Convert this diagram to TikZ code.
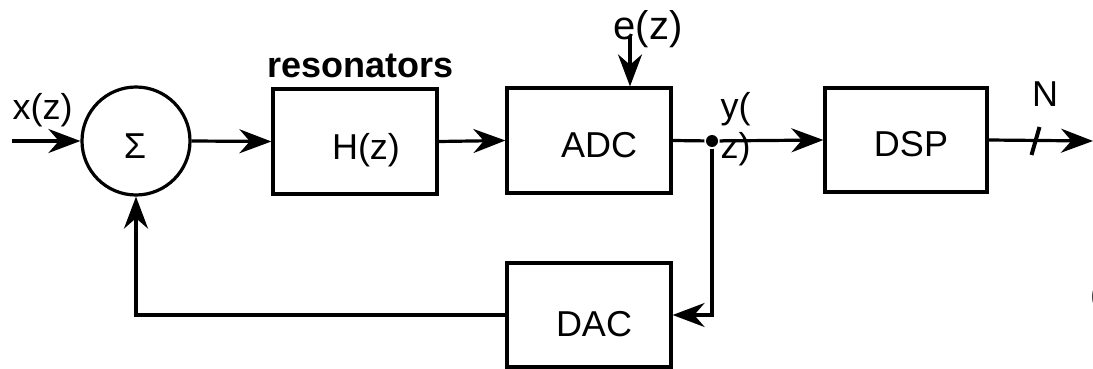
\documentclass[tikz,border=0pt]{standalone}
\usepackage{fontspec}
\setmainfont{Liberation Sans}
\usetikzlibrary{arrows.meta}

\begin{document}
\begin{tikzpicture}[x=0.5pt, y=-0.5pt, line width=1.6pt,
    font=\fontsize{18}{20}\selectfont,
    >={Stealth[length=16pt, width=12pt]},
    block/.style={draw, minimum width=82pt, minimum height=52.5pt, inner sep=0pt},
    adder/.style={draw, circle, minimum size=54pt, inner sep=0pt},
    junction/.style={circle, fill, minimum size=6pt, inner sep=0pt}]
  \useasboundingbox (0,0) rectangle (1093,369);
  \clip (0,0) rectangle (1093,369);
  % blocks
  \node[adder] (sum) at (136,141) {};
  \node[font=\fontsize{18}{20}\selectfont] (sigma) at (135,146) {Σ};
  \node[block, label={[xshift=5.5pt, yshift=-4.5pt]center:H(z)}] (hz) at (355,141.5) {};
  \node[block, label={[xshift=5pt, yshift=-2.25pt]center:ADC}] (adc) at (589,140.5) {};
  \node[block, minimum width=81pt, minimum height=52pt,
        label={[xshift=2.5pt, yshift=-2pt]center:DSP}] (dsp) at (906,140) {};
  \node[block, minimum height=52pt,
        label={[xshift=2.5pt, yshift=-4.5pt]center:DAC}] (dac) at (589,315) {};
  \node[junction] (tap) at (712,141) {};
  % labels
  \node[anchor=base] (xlab) at (42.5,120) {x(z)};
  \node[anchor=base, font=\fontsize{18}{20}\selectfont\bfseries] (reslab) at (360.5,78) {resonators};
  \node[anchor=base, font=\fontsize{20}{22}\selectfont] (elab) at (648,39.5) {e(z)};
  \node[anchor=north west, align=left, inner sep=0pt] (ylab) at (719,91) {y(\\z)};
  \node[anchor=base] (nlab) at (1045,107) {N};
  \node[anchor=base west, inner sep=0pt] (cut) at (1088.5,306) {(};
  % connectors
  \coordinate (xin) at (12,141);
  \coordinate (ein) at (630,36);
  \coordinate (yout) at (1093,141);
  \coordinate (bus) at (1035.5,141);
  \draw[->] (xin) -- (sum.west);
  \draw[->] (sum.east) -- (hz.west);
  \draw[->] (hz.east) -- (adc.west);
  \draw[->] (ein) -- (ein |- adc.north);
  \draw (adc.east) -- (tap);
  \draw[->] (tap) -- (dsp.west);
  \draw[->] (dsp.east) -- (yout);
  \draw[line width=2pt] ([shift={(-4,14)}]bus) -- ([shift={(4,-14)}]bus);
  \draw[->] (tap) |- (dac.east);
  \draw[->] (dac.west) -| (sum.south);
\end{tikzpicture}
\end{document}
